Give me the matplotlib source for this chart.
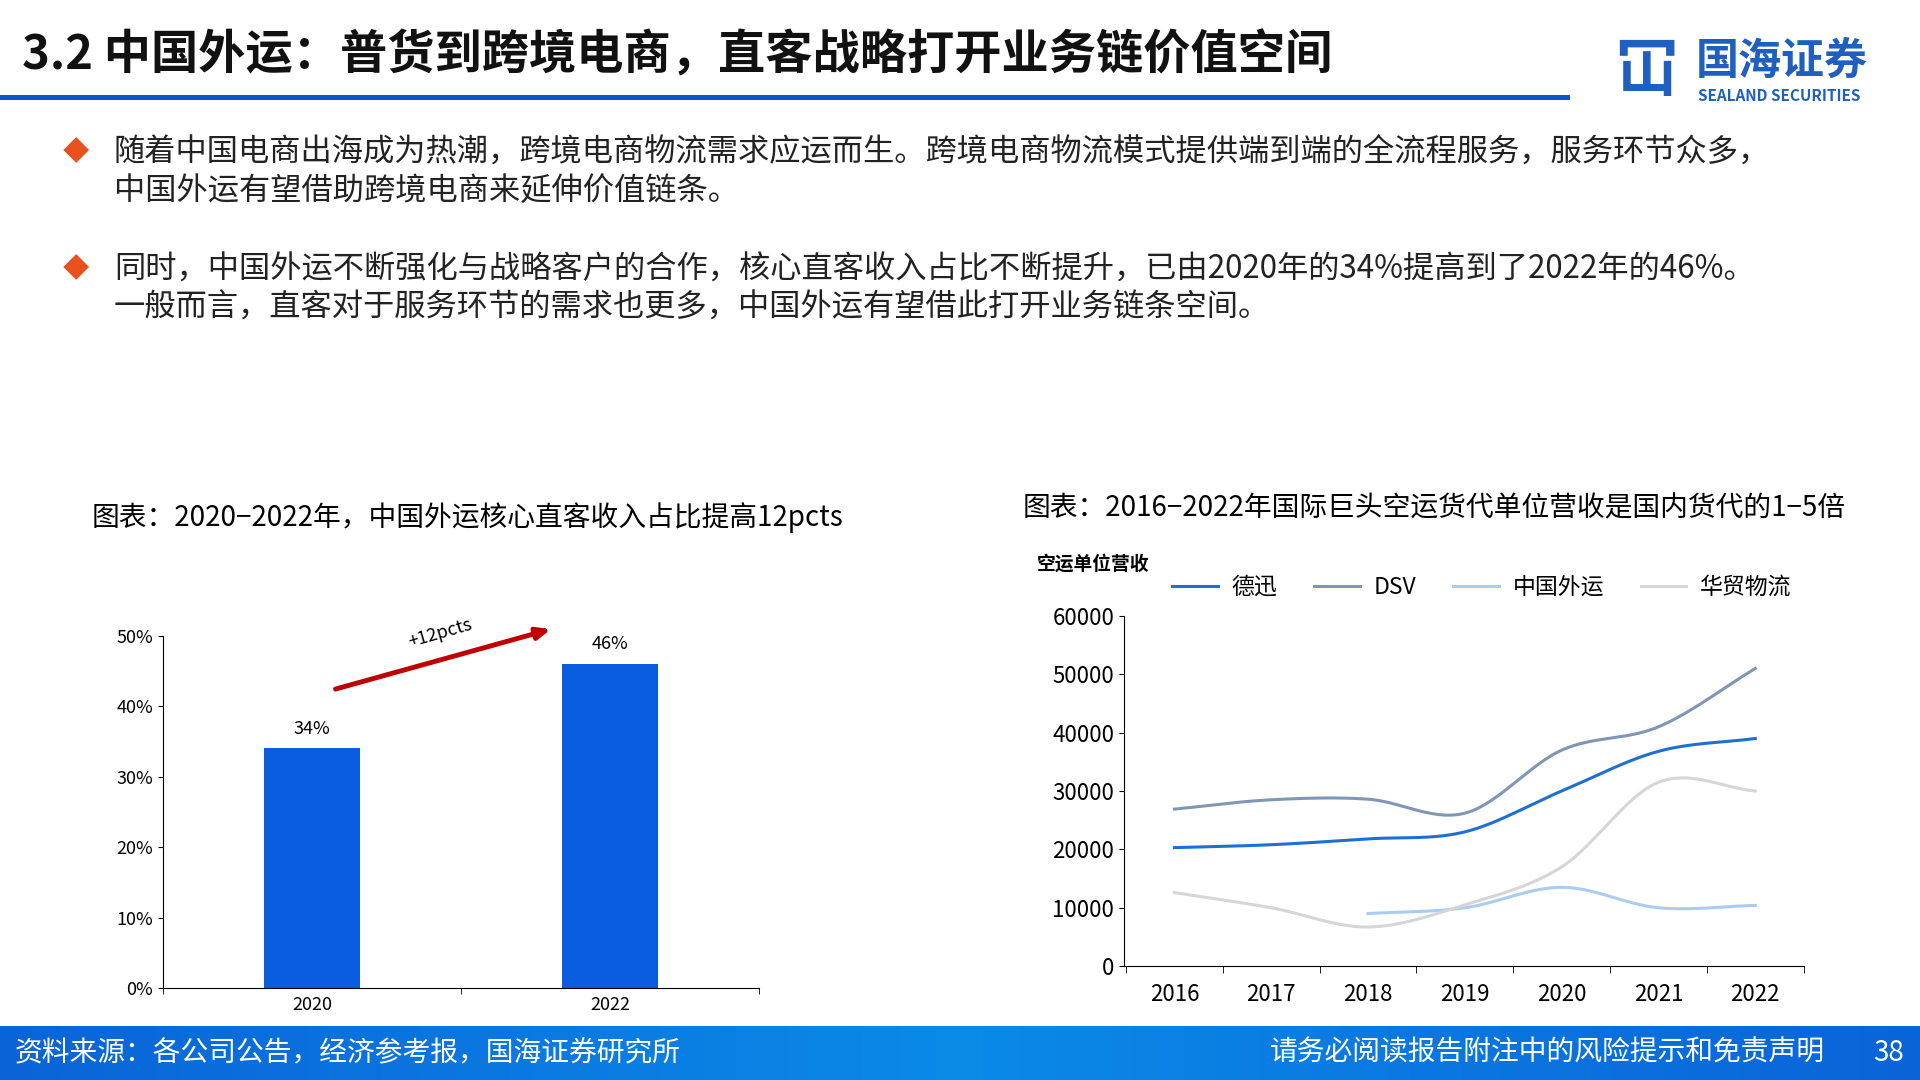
import numpy as np
import matplotlib
matplotlib.use("Agg")
import matplotlib.pyplot as plt
from matplotlib.patches import Rectangle

plt.rcParams["font.family"] = ["Noto Sans CJK SC", "DejaVu Sans"]

# data
bar_years = ["2020", "2022"]
bar_share = [34, 46]

line_years = [2016, 2017, 2018, 2019, 2020, 2021, 2022]
dhl_kn = [20300, 20800, 21800, 23000, 30000, 36800, 39000]
dsv = [26900, 28500, 28600, 26200, 37000, 41000, 51000]
sinotrans_years = [2018, 2019, 2020, 2021, 2022]
sinotrans = [9000, 10000, 13500, 10000, 10400]
huamao = [12600, 10000, 6700, 10500, 17000, 31500, 30000]

W, H = 1568, 882
fig = plt.figure(figsize=(19.2, 10.8), dpi=100)


def fx(x):
    return x / W


def fy(y):
    return 1 - y / H


def smooth(xs, ys, n=30):
    # Catmull-Rom curve through the points
    xs = np.asarray(xs, float)
    ys = np.asarray(ys, float)
    px = np.concatenate([[2 * xs[0] - xs[1]], xs, [2 * xs[-1] - xs[-2]]])
    py = np.concatenate([[2 * ys[0] - ys[1]], ys, [2 * ys[-1] - ys[-2]]])
    ox, oy = [], []
    t = np.linspace(0, 1, n)
    for i in range(1, len(px) - 2):
        for p, o in ((px, ox), (py, oy)):
            p0, p1, p2, p3 = p[i - 1:i + 3]
            o.extend(0.5 * ((2 * p1) + (-p0 + p2) * t + (2 * p0 - 5 * p1 + 4 * p2 - p3) * t ** 2
                            + (-p0 + 3 * p1 - 3 * p2 + p3) * t ** 3))
    return ox, oy


# header
fig.text(fx(18), fy(45), "3.2 中国外运：普货到跨境电商，直客战略打开业务链价值空间",
         fontsize=34, fontweight="bold", va="center", color="#111111")
fig.add_artist(Rectangle((0, fy(82)), fx(1282), 4.5 / H, transform=fig.transFigure,
                         color="#0a55c8", lw=0))
fig.text(fx(1385), fy(50), "国海证券", fontsize=31, fontweight="bold", color="#1f5fbf", va="center")
fig.text(fx(1387), fy(78), "SEALAND SECURITIES", fontsize=11, fontweight="bold", color="#1f5fbf", va="center")
fig.text(fx(1318), fy(58), "冚", fontsize=46, fontweight="bold", color="#1f5fbf", va="center")

# bullets
bullets = [
    (125, ["随着中国电商出海成为热潮，跨境电商物流需求应运而生。跨境电商物流模式提供端到端的全流程服务，服务环节众多，",
           "中国外运有望借助跨境电商来延伸价值链条。"]),
    (220, ["同时，中国外运不断强化与战略客户的合作，核心直客收入占比不断提升，已由2020年的34%提高到了2022年的46%。",
           "一般而言，直客对于服务环节的需求也更多，中国外运有望借此打开业务链条空间。"]),
]
for y0, lines in bullets:
    fig.text(fx(62), fy(y0), "◆", fontsize=19, color="#e8501e", va="center", ha="center")
    for k, ln in enumerate(lines):
        fig.text(fx(93), fy(y0 + k * 31), ln, fontsize=22.5, va="center", color="#222222")

# left chart
fig.text(fx(75), fy(423), "图表：2020−2022年，中国外运核心直客收入占比提高12pcts", fontsize=20, va="center")
ax1 = fig.add_axes([fx(133), fy(807), fx(620 - 133), (807 - 519) / H])
xpos = np.arange(len(bar_years))
ax1.bar(xpos, bar_share, width=0.32, color="#0a5ce0")
for x, v in zip(xpos, bar_share):
    ax1.text(x, v + 1.5, f"{v}%", ha="center", va="bottom", fontsize=13)
ax1.set_xlim(-0.5, 1.5)
ax1.set_ylim(0, 50)
ax1.set_yticks(range(0, 51, 10))
ax1.set_yticklabels([f"{v}%" for v in range(0, 51, 10)], fontsize=13)
ax1.set_xticks(xpos)
ax1.set_xticklabels(bar_years, fontsize=13)
ax1.tick_params(axis="x", length=0, pad=6)
ax1.set_xticks([-0.5, 0.5, 1.5], minor=True)
ax1.tick_params(axis="x", which="minor", length=4)
for s in ("top", "right"):
    ax1.spines[s].set_visible(False)
ax1.annotate("", xy=(0.81, 51), xytext=(0.07, 42.3), annotation_clip=False,
             arrowprops=dict(arrowstyle="-|>,head_length=0.8,head_width=0.35", color="#c00000", lw=3.5))
ax1.text(0.43, 50.3, "+12pcts", rotation=16, fontsize=13, ha="center", va="center")

# right chart
fig.text(fx(835), fy(415), "图表：2016−2022年国际巨头空运货代单位营收是国内货代的1−5倍", fontsize=20, va="center")
fig.text(fx(847), fy(461), "空运单位营收", fontsize=13.5, fontweight="bold", va="center")
ax2 = fig.add_axes([fx(918), fy(789), fx(1473 - 918), (789 - 503) / H])
series = [("德迅", line_years, dhl_kn, "#1f6fd0"),
          ("DSV", line_years, dsv, "#8096b5"),
          ("中国外运", sinotrans_years, sinotrans, "#a9cdf0"),
          ("华贸物流", line_years, huamao, "#d6d6d6")]
for name, xs, ys, c in series:
    sx, sy = smooth(xs, ys)
    ax2.plot(sx, sy, color=c, lw=2.2, label=name)
ax2.set_xlim(2015.48, 2022.5)
ax2.set_ylim(0, 60000)
ax2.set_yticks(range(0, 60001, 10000))
ax2.set_xticks(line_years)
ax2.tick_params(axis="both", labelsize=16)
ax2.tick_params(axis="x", length=0, pad=12)
ax2.set_xticks(np.arange(2015.5, 2023, 1), minor=True)
ax2.tick_params(axis="x", which="minor", length=5)
for s in ("top", "right"):
    ax2.spines[s].set_visible(False)
ax2.legend(loc="lower left", bbox_to_anchor=(0.04, 0.99), ncol=4, frameon=False, fontsize=16.5,
           handlelength=2, columnspacing=1.6, handletextpad=0.6)

# footer
grad = np.linspace(0, 1, 256).reshape(1, -1)
fax = fig.add_axes([0, 0, 1, 44 / H])
fax.imshow(grad, aspect="auto", cmap=matplotlib.colors.LinearSegmentedColormap.from_list(
    "f", ["#0a64d8", "#0a8ae8", "#0a64d8"]), extent=[0, 1, 0, 1])
fax.axis("off")
fig.text(fx(12), fy(860), "资料来源：各公司公告，经济参考报，国海证券研究所", fontsize=20, color="white", va="center")
fig.text(fx(1490), fy(860), "请务必阅读报告附注中的风险提示和免责声明", fontsize=20, color="white", va="center", ha="right")
fig.text(fx(1555), fy(860), "38", fontsize=20, color="white", va="center", ha="right")

fig.savefig("out.png", dpi=100)
